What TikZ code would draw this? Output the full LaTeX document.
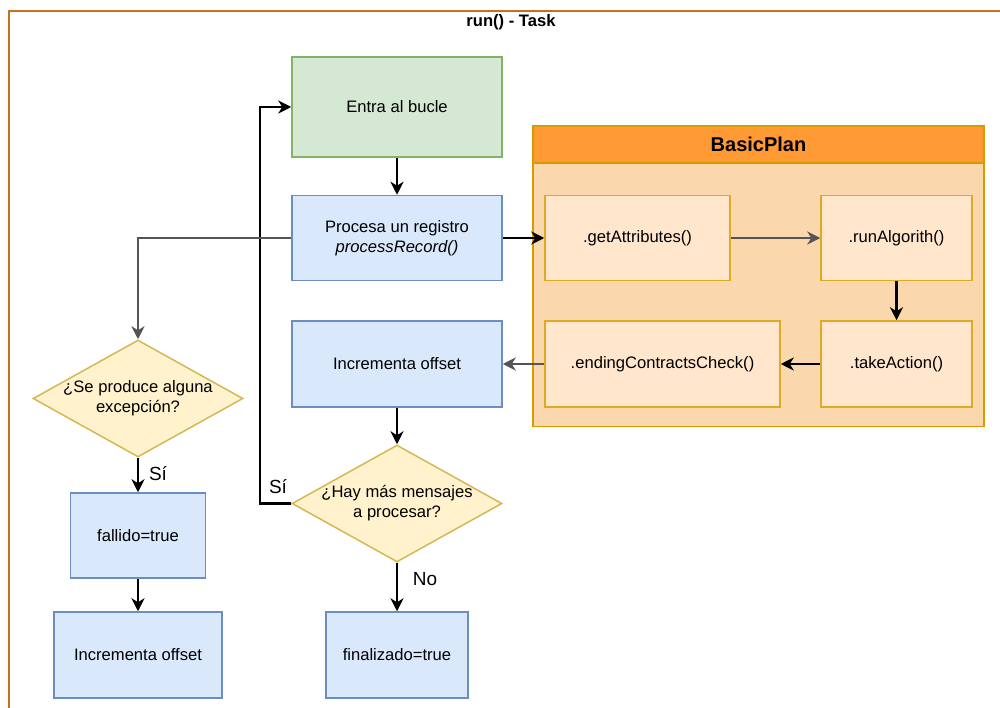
\documentclass[tikz,border=0pt]{standalone}
\usepackage{fontspec}
\setmainfont{Liberation Sans}
\usetikzlibrary{arrows.meta,shapes.geometric}

\definecolor{frameorange}{HTML}{C4701E}
\definecolor{bluefill}{HTML}{DAE8FC}
\definecolor{bluedraw}{HTML}{6C8EBF}
\definecolor{greenfill}{HTML}{D5E8D4}
\definecolor{greendraw}{HTML}{82B366}
\definecolor{yellowfill}{HTML}{FFF2CC}
\definecolor{yellowdraw}{HTML}{D6B656}
\definecolor{planhead}{HTML}{FF9A35}
\definecolor{planbody}{HTML}{FAD7AC}
\definecolor{plandraw}{HTML}{D79B00}
\definecolor{methodfill}{HTML}{FFE6CC}
\definecolor{methoddraw}{HTML}{DDAA22}
\definecolor{linegray}{HTML}{555555}

\tikzset{
  txt/.style={font=\fontsize{16.6}{20}\selectfont, align=center},
  bluebox/.style={txt, draw=bluedraw, fill=bluefill, line width=1.5pt, inner sep=0pt},
  greenbox/.style={txt, draw=greendraw, fill=greenfill, line width=1.5pt, inner sep=0pt},
  methodbox/.style={txt, draw=methoddraw, fill=methodfill, line width=1.5pt, inner sep=0pt},
  decision/.style={diamond, draw=yellowdraw, fill=yellowfill, line width=1.5pt, inner sep=0pt},
  flow/.style={line width=2.2pt, -{Stealth[length=13pt,width=13pt,inset=4pt]}},
  grayflow/.style={flow, draw=linegray},
  edgelabel/.style={font=\fontsize{19}{22}\selectfont, inner sep=0pt},
}

\begin{document}
\begin{tikzpicture}[x=1pt, y=-1pt]
  \useasboundingbox (0,0) rectangle (1000,708);

  % outer frame of the task (runs past the page on the right and bottom)
  \draw[frameorange, line width=2pt] (9,720) -- (9,11) -- (1010,11);
  \node[font=\bfseries\fontsize{16.6}{20}\selectfont] (title) at (511,22) {run() - Task};

  % BasicPlan container
  \node[draw=plandraw, fill=planbody, line width=1.5pt, minimum width=451, minimum height=300, inner sep=0pt] (plan) at (758.5,276.5) {};
  \node[draw=plandraw, fill=planhead, line width=1.5pt, minimum width=451, minimum height=37, inner sep=0pt,
        font=\bfseries\fontsize{20}{24}\selectfont] (planhead) at (758.5,144.5) {BasicPlan};

  % main column
  \node[greenbox, minimum width=210, minimum height=100] (entra) at (397,107) {Entra al bucle};
  \node[bluebox, minimum width=210, minimum height=85] (procesa) at (397,238) {Procesa un registro\\\textit{processRecord()}};
  \node[bluebox, minimum width=210, minimum height=86] (incmid) at (397,364) {Incrementa offset};
  \node[decision, minimum width=210, minimum height=117,
        label={[txt]center:¿Hay más mensajes\\a procesar?}] (hay) at (397,503.5) {};
  \node[bluebox, minimum width=142, minimum height=86] (fin) at (397,655) {finalizado=true};

  % exception column
  \node[decision, minimum width=210, minimum height=117,
        label={[txt]center:¿Se produce alguna\\excepción?}] (exc) at (138,398.5) {};
  \node[bluebox, minimum width=135, minimum height=85] (fallido) at (138,535.5) {fallido=true};
  \node[bluebox, minimum width=168, minimum height=86] (incleft) at (138,655) {Incrementa offset};

  % plan methods
  \node[methodbox, minimum width=185, minimum height=85] (getattr) at (637.5,238) {.getAttributes()};
  \node[methodbox, minimum width=151, minimum height=85] (runalg) at (896.5,238) {.runAlgorith()};
  \node[methodbox, minimum width=151, minimum height=86] (take) at (896.5,364) {.takeAction()};
  \node[methodbox, minimum width=235, minimum height=86] (ending) at (662.5,364) {.endingContractsCheck()};

  % connectors
  \coordinate (loopbot) at (260,503.5);
  \coordinate (looptop) at (260,107);
  \coordinate (exccorner) at (138,238);

  \draw[flow] (entra) -- (procesa);
  \draw[flow] (procesa) -- (getattr);
  \draw[grayflow] (getattr) -- (runalg);
  \draw[flow] (runalg) -- (take);
  \draw[flow] (take) -- (ending);
  \draw[grayflow] (ending) -- (incmid);
  \draw[flow] (incmid) -- (hay.north);
  \draw[flow] (hay.south) -- (fin);
  \draw[flow] (hay.west) -- (loopbot) -- (looptop) -- (entra.west);
  \draw[grayflow] (procesa.west) -- (exccorner) -- (exc.north);
  \draw[flow] (exc.south) -- (fallido);
  \draw[flow] (fallido) -- (incleft);

  % branch labels
  \node[edgelabel] (sino) at (425,579) {No};
  \node[edgelabel] (siloop) at (278,487) {Sí};
  \node[edgelabel] (siexc) at (158,474) {Sí};
\end{tikzpicture}
\end{document}
